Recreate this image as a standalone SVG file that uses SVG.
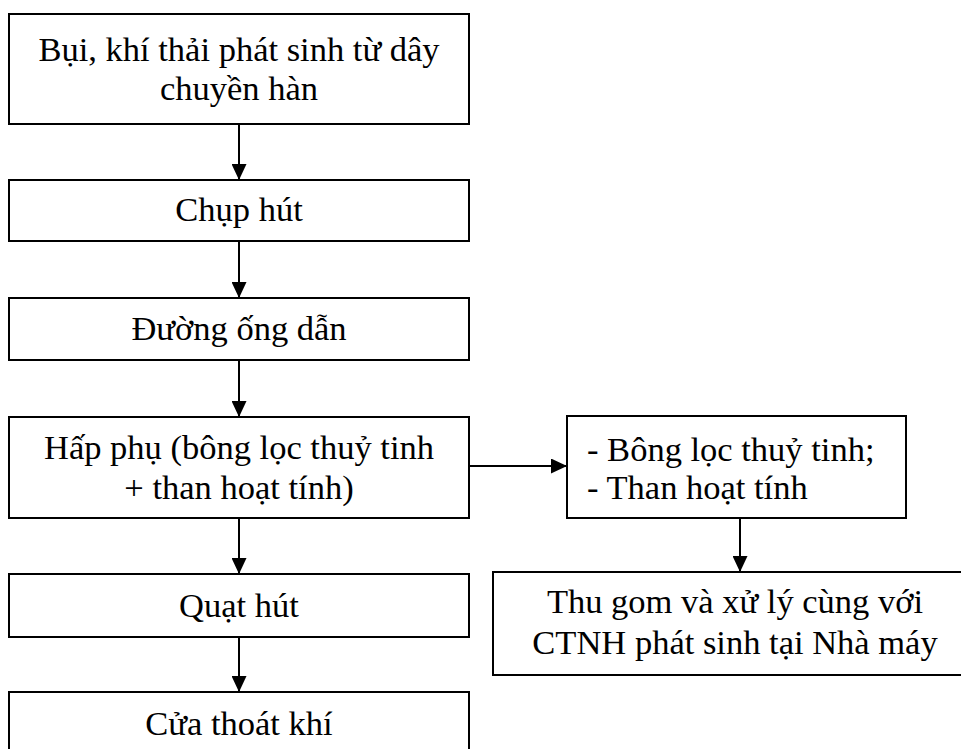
<svg xmlns="http://www.w3.org/2000/svg" width="961" height="749" viewBox="0 0 961 749">
  <style>
    .box { fill: #ffffff; stroke: #000000; stroke-width: 2; }
    .lbl { font-family: "Liberation Serif", "Times New Roman", serif; font-size: 34.5px; fill: #000000; }
    .c { text-anchor: middle; }
    .link { stroke: #000000; stroke-width: 2; fill: none; marker-end: url(#arrow); }
  </style>
  <defs>
    <marker id="arrow" markerUnits="userSpaceOnUse" markerWidth="16" markerHeight="15" refX="16" refY="7.5" orient="auto">
      <path d="M0,0 L16,7.5 L0,15 z" fill="#000000"/>
    </marker>
  </defs>
  <rect width="961" height="749" fill="#ffffff"/>

  <g id="connectors">
    <line class="link" x1="239" y1="124" x2="239" y2="180"/>
    <line class="link" x1="239" y1="241" x2="239" y2="298"/>
    <line class="link" x1="239" y1="360" x2="239" y2="417"/>
    <line class="link" x1="469" y1="466" x2="567" y2="466"/>
    <line class="link" x1="239" y1="518" x2="239" y2="574"/>
    <line class="link" x1="239" y1="637" x2="239" y2="692"/>
    <line class="link" x1="740" y1="518" x2="740" y2="572"/>
  </g>

  <g id="source">
    <rect class="box" x="9" y="14" width="460" height="110"/>
    <text class="lbl c" x="239" y="61">Bụi, khí thải phát sinh từ dây</text>
    <text class="lbl c" x="239" y="100">chuyền hàn</text>
  </g>

  <g id="hood">
    <rect class="box" x="9" y="180" width="460" height="61"/>
    <text class="lbl c" x="239" y="221">Chụp hút</text>
  </g>

  <g id="duct">
    <rect class="box" x="9" y="298" width="460" height="62"/>
    <text class="lbl c" x="239" y="340">Đường ống dẫn</text>
  </g>

  <g id="adsorber">
    <rect class="box" x="9" y="417" width="460" height="101"/>
    <text class="lbl c" x="239" y="459">Hấp phụ (bông lọc thuỷ tinh</text>
    <text class="lbl c" x="239" y="499">+ than hoạt tính)</text>
  </g>

  <g id="media">
    <rect class="box" x="567" y="416" width="339" height="102"/>
    <text class="lbl" x="587" y="461">- Bông lọc thuỷ tinh;</text>
    <text class="lbl" x="587" y="499">- Than hoạt tính</text>
  </g>

  <g id="disposal">
    <rect class="box" x="493" y="572" width="484" height="103"/>
    <text class="lbl c" x="735" y="613">Thu gom và xử lý cùng với</text>
    <text class="lbl c" x="735" y="654">CTNH phát sinh tại Nhà máy</text>
  </g>

  <g id="fan">
    <rect class="box" x="9" y="574" width="460" height="63"/>
    <text class="lbl c" x="239" y="617">Quạt hút</text>
  </g>

  <g id="outlet">
    <rect class="box" x="9" y="692" width="460" height="80"/>
    <text class="lbl c" x="239" y="735">Cửa thoát khí</text>
  </g>
</svg>
